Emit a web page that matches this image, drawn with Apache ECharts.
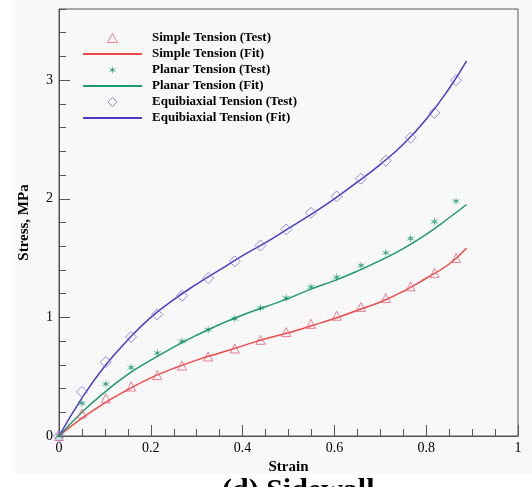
<!DOCTYPE html>
<html>
<head>
<meta charset="utf-8">
<script src="https://cdn.jsdelivr.net/npm/echarts@6/dist/echarts.min.js"></script>
<style>html,body{margin:0;padding:0;background:#fff;}#c{width:532px;height:487px;}</style>
</head>
<body>
<div id="c"></div>
<script>
// Test strains (shared by the three test data sets)
var testStrain = [0, 0.050, 0.102, 0.157, 0.214, 0.268, 0.325, 0.383, 0.439, 0.495, 0.549, 0.605, 0.658, 0.712, 0.766, 0.818, 0.865];
var simpleTest = [0, 0.19, 0.318, 0.417, 0.513, 0.594, 0.670, 0.738, 0.811, 0.876, 0.946, 1.014, 1.087, 1.163, 1.262, 1.375, 1.501];
var planarTest = [0, 0.276, 0.439, 0.577, 0.699, 0.800, 0.896, 0.989, 1.079, 1.163, 1.256, 1.338, 1.437, 1.544, 1.665, 1.806, 1.980];
var equiTest   = [0, 0.372, 0.623, 0.834, 1.025, 1.183, 1.332, 1.473, 1.606, 1.741, 1.882, 2.020, 2.169, 2.321, 2.515, 2.724, 3.000];

// Fit curves
var fitStrain = [0, 0.05, 0.1, 0.15, 0.2, 0.25, 0.3, 0.35, 0.4, 0.45, 0.5, 0.55, 0.6, 0.65, 0.7, 0.75, 0.8, 0.85, 0.888];
var simpleFit = [0, 0.15, 0.28, 0.39, 0.49, 0.57, 0.64, 0.70, 0.76, 0.82, 0.87, 0.93, 0.99, 1.06, 1.13, 1.22, 1.33, 1.45, 1.586];
var planarFit = [0, 0.20, 0.37, 0.52, 0.64, 0.75, 0.85, 0.94, 1.02, 1.09, 1.16, 1.24, 1.31, 1.39, 1.48, 1.58, 1.70, 1.84, 1.952];
var equiFit   = [0, 0.32, 0.59, 0.81, 1.00, 1.15, 1.28, 1.40, 1.52, 1.63, 1.75, 1.87, 2.00, 2.14, 2.29, 2.46, 2.67, 2.93, 3.163];

var names = ['Simple Tension (Test)', 'Simple Tension (Fit)', 'Planar Tension (Test)', 'Planar Tension (Fit)', 'Equibiaxial Tension (Test)', 'Equibiaxial Tension (Fit)'];
var xTicks = [0, 0.2, 0.4, 0.6, 0.8, 1];
var yTicks = [0, 1, 2, 3];

function pairs(xs, ys) { return xs.map(function (x, i) { return [x, ys[i]]; }); }

var SERIF = '"Liberation Serif", "Times New Roman", serif';
var starPath = 'path://M0,-10L1.25,-2.165L8.66,-5L2.5,0L8.66,5L1.25,2.165L0,10L-1.25,2.165L-8.66,5L-2.5,0L-8.66,-5L-1.25,-2.165Z';
var triPath = 'path://M5,0L10,9L0,9Z';
var diaPath = 'path://M5,0L10,5L5,10L0,5Z';
var linePath = 'path://M0,0L59,0L59,2L0,2Z';
var axisCol = '#555';

var chart = echarts.init(document.getElementById('c'));
chart.setOption({
  animation: false,
  backgroundColor: '#ffffff',
  graphic: {
    elements: [
      { type: 'rect', z: -100, silent: true, shape: { x: 15, y: 0, width: 517, height: 473 }, style: { fill: '#f8f8f8' } },
      { type: 'text', left: 222, top: 476, silent: true,
        style: { text: '(d) Sidewall', font: 'bold 30px ' + SERIF, fill: '#000' } }
    ]
  },
  grid: { left: 59, right: 14, top: 9, bottom: 51, show: true, borderColor: axisCol, borderWidth: 1, backgroundColor: 'transparent' },
  legend: {
    orient: 'vertical', left: 83, top: 30, padding: 0, itemWidth: 59, itemHeight: 9, itemGap: 0,
    symbolKeepAspect: true,
    textStyle: { fontFamily: SERIF, fontWeight: 'bold', fontSize: 13, color: '#000', lineHeight: 16, padding: [0, 0, 0, 5] },
    data: [
      { name: names[0], icon: triPath, itemStyle: { borderWidth: 1, color: 'rgba(0,0,0,0)', borderColor: '#e2607a' } },
      { name: names[1], icon: linePath },
      { name: names[2], icon: starPath },
      { name: names[3], icon: linePath },
      { name: names[4], icon: diaPath, itemStyle: { borderWidth: 1, color: 'rgba(0,0,0,0)', borderColor: '#7a70d8' } },
      { name: names[5], icon: linePath }
    ]
  },
  xAxis: {
    type: 'value', min: 0, max: 1, interval: 0.2,
    name: 'Strain', nameLocation: 'middle', nameGap: 22,
    nameTextStyle: { fontFamily: SERIF, fontWeight: 'bold', fontSize: 15, color: '#000' },
    axisLine: { show: true, lineStyle: { color: axisCol, width: 1 } },
    axisTick: { show: true, inside: true, length: 11, lineStyle: { color: axisCol } },
    minorTick: { show: true, splitNumber: 4, length: 7, lineStyle: { color: axisCol } },
    splitLine: { show: false },
    axisLabel: { fontFamily: SERIF, fontSize: 14, color: '#000', margin: 5,
      formatter: function (v) { return xTicks.indexOf(Math.round(v * 10) / 10) >= 0 ? String(Math.round(v * 10) / 10) : ''; } }
  },
  yAxis: [
    {
      type: 'value', min: 0, max: 3.6, interval: 1,
      name: 'Stress, MPa', nameLocation: 'middle', nameGap: 27,
      nameTextStyle: { fontFamily: SERIF, fontWeight: 'bold', fontSize: 15, color: '#000' },
      axisLine: { show: true, lineStyle: { color: axisCol, width: 1 } },
      axisTick: { show: true, inside: true, length: 11, lineStyle: { color: axisCol } },
      splitLine: { show: false },
      axisLabel: { fontFamily: SERIF, fontSize: 14, color: '#000', margin: 6, showMaxLabel: false,
        formatter: function (v) { return yTicks.indexOf(v) >= 0 ? String(v) : ''; } }
    },
    {
      type: 'value', min: 0, max: 3.6, interval: 0.2, position: 'left',
      axisLine: { show: false },
      axisTick: { show: true, inside: true, length: 7, lineStyle: { color: axisCol } },
      splitLine: { show: false },
      axisLabel: { show: false }
    }
  ],
  series: [
    { name: names[0], type: 'scatter', data: pairs(testStrain, simpleTest), symbol: 'triangle', symbolSize: 9,
      itemStyle: { color: 'rgba(0,0,0,0)', borderColor: '#e2607a', borderWidth: 1 }, z: 3 },
    { name: names[1], type: 'line', data: pairs(fitStrain, simpleFit), smooth: true, symbol: 'none', showSymbol: false,
      lineStyle: { color: '#ef4a4a', width: 1.5 }, itemStyle: { color: '#ef4a4a' } },
    { name: names[2], type: 'scatter', data: pairs(testStrain, planarTest), symbol: starPath, symbolSize: 9,
      itemStyle: { color: '#139464' }, z: 3 },
    { name: names[3], type: 'line', data: pairs(fitStrain, planarFit), smooth: true, symbol: 'none', showSymbol: false,
      lineStyle: { color: '#1e9a6c', width: 1.5 }, itemStyle: { color: '#1e9a6c' } },
    { name: names[4], type: 'scatter', data: pairs(testStrain, equiTest), symbol: 'diamond', symbolSize: 11,
      itemStyle: { color: 'rgba(0,0,0,0)', borderColor: '#7a70d8', borderWidth: 1 }, z: 3 },
    { name: names[5], type: 'line', data: pairs(fitStrain, equiFit), smooth: true, symbol: 'none', showSymbol: false,
      lineStyle: { color: '#4a3cc4', width: 1.5 }, itemStyle: { color: '#4a3cc4' } }
  ]
});
</script>
</body>
</html>
